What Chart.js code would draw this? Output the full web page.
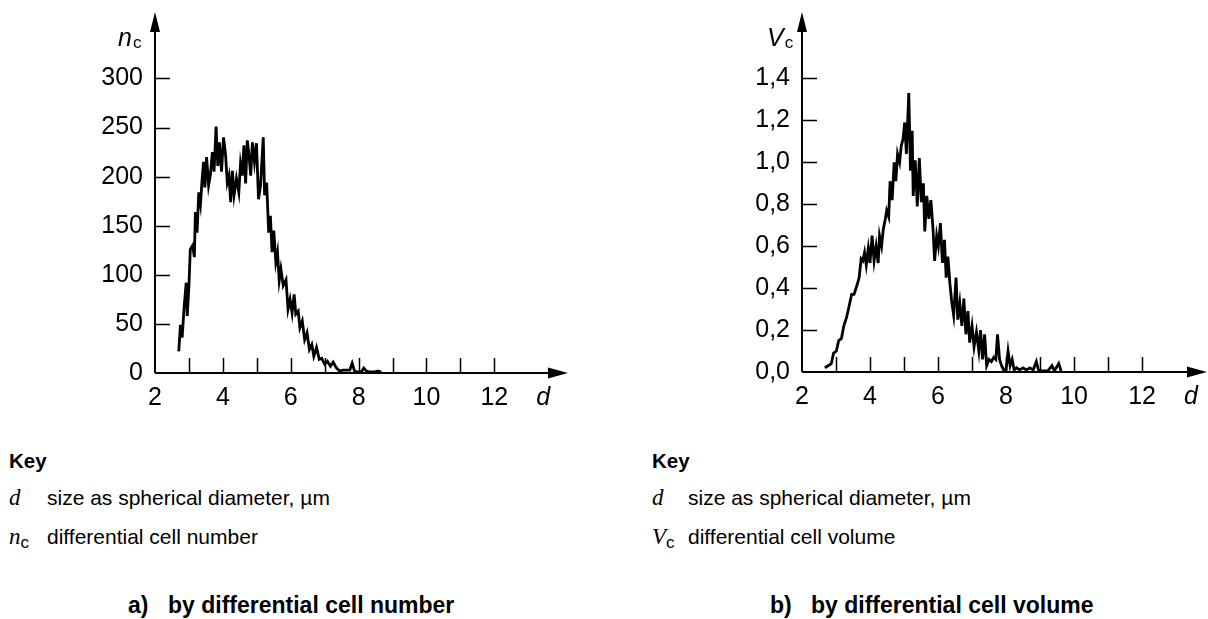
<!DOCTYPE html>
<html>
<head>
<meta charset="utf-8">
<script src="https://cdn.jsdelivr.net/npm/chart.js@4/dist/chart.umd.min.js"></script>
<style>
  body { margin: 0; width: 1208px; height: 619px; background: #fff; position: relative; overflow: hidden;
         font-family: "Liberation Sans", Arial, sans-serif; color: #000; }
  canvas { position: absolute; top: 0; }
  .t { position: absolute; white-space: nowrap; line-height: 24px; }
  .key { font-weight: bold; font-size: 20.5px; }
  .row { font-size: 21px; }
  .sym { font-family: "Liberation Serif", serif; font-style: italic; font-size: 23px; }
  .sub { font-family: "Liberation Sans", Arial, sans-serif; font-style: normal; font-size: 17px; position: relative; top: 4px; }
  .cap { font-weight: bold; font-size: 23px; }
</style>
</head>
<body>
<canvas id="chartA" width="600" height="420" style="left:0"></canvas>
<canvas id="chartB" width="604" height="420" style="left:604px"></canvas>

<div class="t key" style="left:9px;top:449px">Key</div>
<div class="t sym" style="left:9px;top:486px">d</div>
<div class="t row" style="left:47px;top:486px">size as spherical diameter, µm</div>
<div class="t sym" style="left:9px;top:525px">n<span class="sub">c</span></div>
<div class="t row" style="left:47px;top:525px">differential cell number</div>
<div class="t cap" style="left:128px;top:593px">a)</div>
<div class="t cap" style="left:168px;top:593px">by differential cell number</div>

<div class="t key" style="left:652px;top:449px">Key</div>
<div class="t sym" style="left:652px;top:486px">d</div>
<div class="t row" style="left:688px;top:486px">size as spherical diameter, µm</div>
<div class="t sym" style="left:652px;top:525px">V<span class="sub">c</span></div>
<div class="t row" style="left:688px;top:525px">differential cell volume</div>
<div class="t cap" style="left:770px;top:593px">b)</div>
<div class="t cap" style="left:811px;top:593px">by differential cell volume</div>

<script>
// a) differential cell number vs diameter
const dN = [2.70,2.75,2.80,2.86,2.92,2.95,3.00,
  3.04,3.11,3.16,3.19,3.24,3.29,3.34,3.39,3.43,3.47,
  3.52,3.58,3.63,3.69,3.74,3.80,3.85,3.90,3.96,
  4.02,4.08,4.13,4.18,4.23,4.28,4.33,4.40,4.47,
  4.52,4.57,4.62,4.67,4.72,4.77,4.82,4.87,4.93,4.99,
  5.05,5.11,5.19,5.23,5.29,5.35,5.40,5.45,
  5.50,5.56,5.61,5.66,5.71,5.78,5.86,5.92,5.98,
  6.04,6.10,6.15,6.22,6.27,6.34,6.41,6.48,
  6.55,6.62,6.68,6.76,6.84,6.91,
  7.00,7.08,7.17,7.25,7.35,7.44,
  7.54,7.64,7.74,7.81,7.88,7.98,
  8.08,8.15,8.23,8.33,8.47,8.57,8.67];
const nC = [22,49,36,68,92,58,89,
  126,130,118,164,143,184,172,198,215,189,
  220,191,201,225,205,251,211,235,205,
  240,222,194,201,174,206,181,198,184,
  213,201,232,193,237,222,201,235,215,234,
  177,191,240,181,194,143,160,123,
  145,113,123,94,106,89,95,65,75,
  61,80,60,63,46,53,34,41,
  24,29,17,26,14,15,
  9,12,7,11,5,2,
  3,3,3,10,2,1,
  1,5,2,1,1,2,1];

// b) differential cell volume vs diameter
const dV = [2.67,2.77,2.86,2.93,3.01,3.08,3.16,3.23,3.31,3.38,
  3.46,3.53,3.61,3.68,3.74,3.79,3.84,3.89,3.95,4.00,
  4.06,4.12,4.18,4.24,4.28,4.34,4.39,4.45,4.49,4.55,
  4.59,4.65,4.71,4.76,4.81,4.87,4.92,4.97,5.02,5.07,
  5.14,5.19,5.24,5.27,5.33,5.39,5.45,5.51,5.57,5.61,
  5.67,5.73,5.79,5.85,5.90,5.96,6.01,6.07,6.13,6.19,
  6.24,6.29,6.35,6.40,6.46,6.53,6.58,6.64,6.70,6.76,
  6.82,6.88,6.93,7.00,7.06,7.13,7.20,7.25,7.31,7.37,
  7.43,7.50,7.57,7.64,7.70,7.75,7.81,7.87,7.93,8.00,
  8.06,8.12,8.18,8.24,8.31,8.40,8.50,8.60,8.70,8.80,
  8.89,8.96,9.08,9.23,9.35,9.42,9.55,9.62];
const vC = [0.02,0.03,0.04,0.09,0.10,0.15,0.16,0.22,0.26,0.31,
  0.37,0.37,0.41,0.45,0.54,0.53,0.57,0.51,0.59,0.52,
  0.65,0.53,0.60,0.52,0.65,0.60,0.68,0.73,0.77,0.74,
  0.91,0.82,1.00,0.91,1.04,1.00,1.08,1.11,1.19,1.04,
  1.33,0.96,1.15,0.84,1.01,0.79,1.02,0.81,0.90,0.67,
  0.84,0.73,0.82,0.69,0.53,0.65,0.60,0.71,0.52,0.63,
  0.45,0.55,0.42,0.34,0.27,0.45,0.25,0.33,0.22,0.35,
  0.18,0.29,0.14,0.22,0.12,0.19,0.10,0.20,0.06,0.18,
  0.03,0.06,0.05,0.07,0.06,0.18,0.06,0.03,0.01,0.01,
  0.10,0.03,0.06,0.01,0.02,0.01,0.02,0.01,0.02,0.01,
  0.05,0.005,0.005,0.005,0.03,0.005,0.04,0.005];

// tick values
const dTicks = [2,3,4,5,6,7,8,9,10,11,12];
const nTicks = [0,50,100,150,200,250,300];
const vTicks = [0,0.2,0.4,0.6,0.8,1.0,1.2,1.4];

const FONT = '"Liberation Sans", Arial, sans-serif';

// axis lines with arrows, inward tick marks and the axis symbols
const axesArrows = {
  id: 'axesArrows',
  afterDraw(chart, args, o) {
    const {ctx, chartArea: a, scales: {x, y}} = chart;
    ctx.save();
    ctx.strokeStyle = '#000';
    ctx.fillStyle = '#000';
    ctx.lineWidth = 2;
    ctx.beginPath();
    ctx.moveTo(a.left, a.bottom); ctx.lineTo(a.right - 16, a.bottom);
    ctx.moveTo(a.left, a.bottom); ctx.lineTo(a.left, a.top + 16);
    ctx.stroke();
    ctx.beginPath();
    ctx.moveTo(a.right, a.bottom); ctx.lineTo(a.right - 20, a.bottom - 5.5); ctx.lineTo(a.right - 20, a.bottom + 5.5);
    ctx.closePath(); ctx.fill();
    ctx.beginPath();
    ctx.moveTo(a.left, a.top); ctx.lineTo(a.left - 5, a.top + 20); ctx.lineTo(a.left + 5, a.top + 20);
    ctx.closePath(); ctx.fill();

    ctx.lineWidth = 1.5;
    ctx.beginPath();
    o.xMarks.forEach(v => {
      if (v === x.min) return;
      const px = Math.round(x.getPixelForValue(v)) + 0.5;
      ctx.moveTo(px, a.bottom); ctx.lineTo(px, a.bottom - 15);
    });
    o.yMarks.forEach(v => {
      if (v === 0) return;
      const py = Math.round(y.getPixelForValue(v)) + 0.5;
      ctx.moveTo(a.left, py); ctx.lineTo(a.left + 15, py);
    });
    ctx.stroke();

    ctx.textBaseline = 'alphabetic';
    ctx.textAlign = 'left';
    ctx.font = 'italic 25px ' + FONT;
    ctx.fillText(o.yName, a.left + o.yNameDx, 46);
    const w = ctx.measureText(o.yName).width;
    ctx.font = '17px ' + FONT;
    ctx.fillText('c', a.left + o.yNameDx + w + 1, 48);
    ctx.font = 'italic 25px ' + FONT;
    ctx.textBaseline = 'middle';
    ctx.fillText('d', x.getPixelForValue(12) + 42, a.bottom + 25);
    ctx.restore();
  }
};

function makeChart(id, xs, ys, yTicks, yMax, xMax, yWidth, xHeight, padRight, fmt, yName, yNameDx) {
  return new Chart(document.getElementById(id).getContext('2d'), {
    type: 'line',
    data: {
      datasets: [{
        data: xs.map((v, i) => ({x: v, y: ys[i]})),
        borderColor: '#000',
        borderWidth: 2.8,
        pointRadius: 0,
        tension: 0,
        fill: false,
      }],
    },
    options: {
      responsive: false,
      animation: false,
      devicePixelRatio: 1,
      layout: { padding: { top: 12, right: padRight, left: 0, bottom: 0 } },
      plugins: {
        legend: { display: false },
        tooltip: { enabled: false },
        axesArrows: { xMarks: dTicks, yMarks: yTicks, yName: yName, yNameDx: yNameDx },
      },
      scales: {
        x: {
          type: 'linear', min: 2, max: xMax,
          grid: { display: false, drawTicks: false },
          border: { display: false },
          afterBuildTicks: s => { s.ticks = dTicks.map(v => ({value: v})); },
          afterFit: s => { s.height = xHeight; s.paddingLeft = 0; s.paddingRight = 0; },
          ticks: {
            autoSkip: false, maxRotation: 0, padding: 10, color: '#000',
            font: { family: FONT, size: 25 },
            callback: v => (v % 2 === 0 ? String(v) : ''),
          },
        },
        y: {
          type: 'linear', min: 0, max: yMax,
          grid: { display: false, drawTicks: false },
          border: { display: false },
          afterBuildTicks: s => { s.ticks = yTicks.map(v => ({value: v})); },
          afterFit: s => { s.width = yWidth; s.paddingTop = 0; s.paddingBottom = 0; },
          ticks: {
            autoSkip: false, padding: 12, color: '#000',
            font: { family: FONT, size: 25 },
            callback: fmt,
          },
        },
      },
    },
    plugins: [axesArrows],
  });
}

makeChart('chartA', dN, nC, nTicks, 367.7, 14.17, 155, 47, 32, v => String(v), 'n', -37);
makeChart('chartB', dV, vC, vTicks, 1.717, 13.91, 198, 48, 1, v => v.toFixed(1).replace('.', ','), 'V', -35);
</script>
</body>
</html>
